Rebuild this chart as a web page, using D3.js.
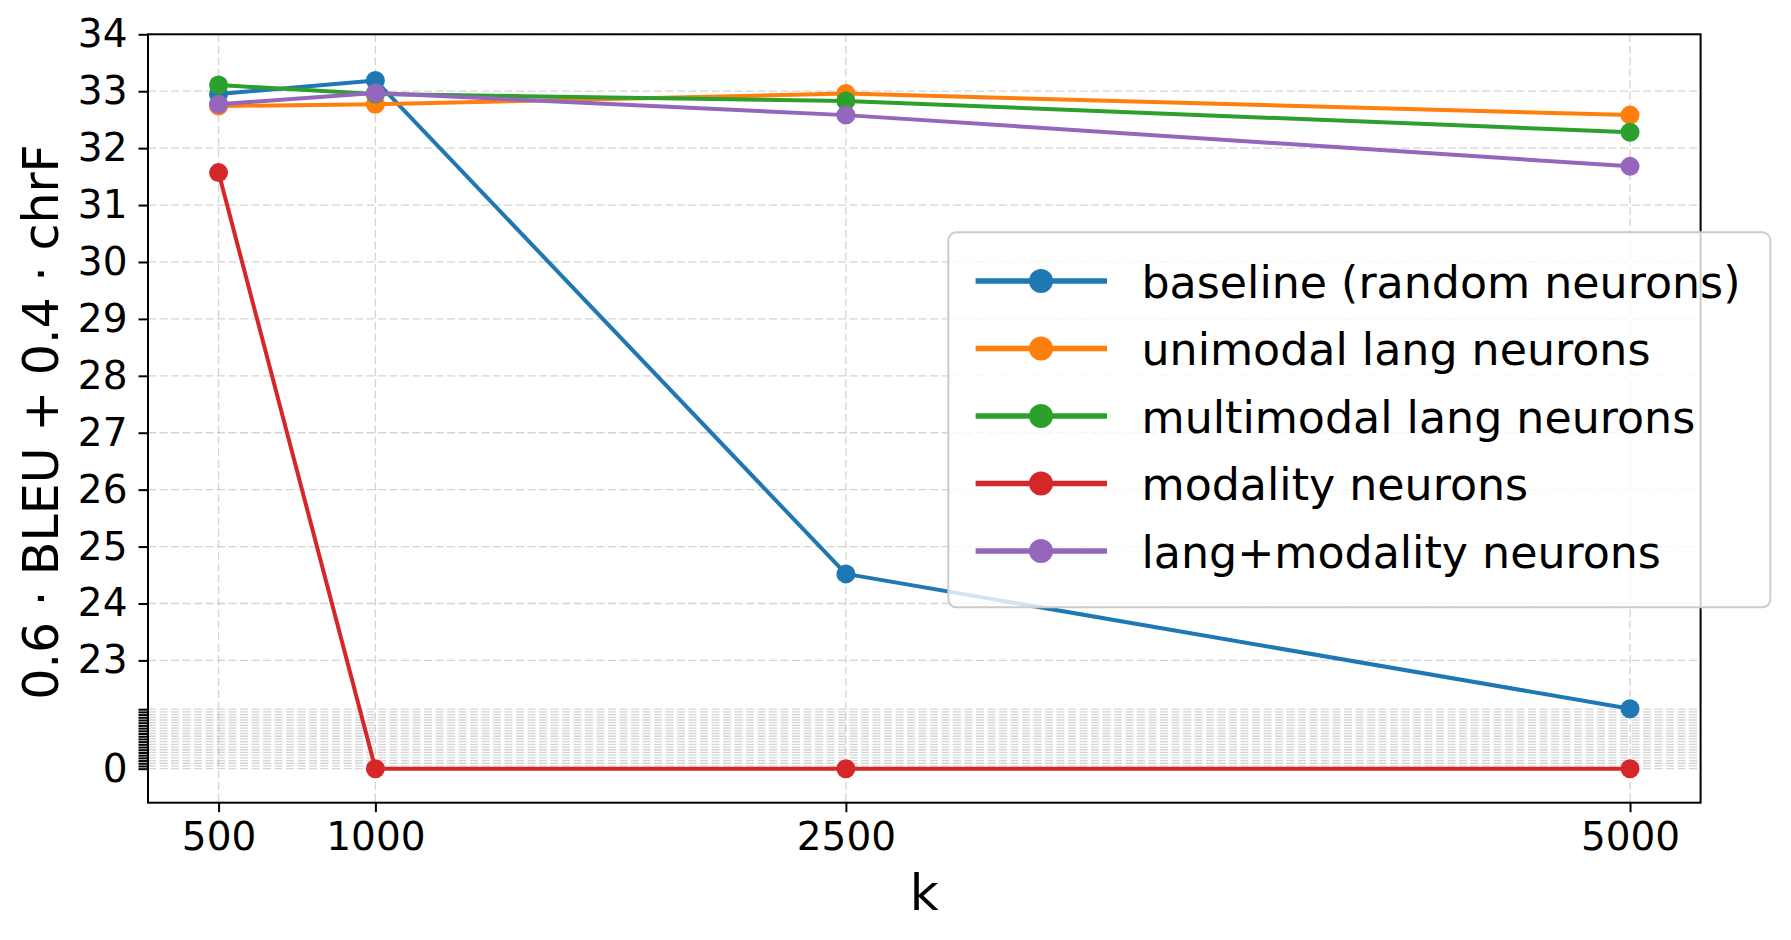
<!DOCTYPE html>
<html>
<head>
<meta charset="utf-8">
<script src="https://cdn.jsdelivr.net/npm/d3@7"></script>
<style>
  body { margin: 0; background: #fff; }
  text { font-family: "DejaVu Sans", sans-serif; }
</style>
</head>
<body>
<div id="chart"></div>
<script>
// data
var ks = [500, 1000, 2500, 5000]
var seriesNames = ['baseline (random neurons)', 'unimodal lang neurons', 'multimodal lang neurons', 'modality neurons', 'lang+modality neurons']
var baselineVals = [32.95, 33.19, 24.52, 22.15]
var unimodalVals = [32.74, 32.77, 32.96, 32.58]
var multimodalVals = [33.11, 32.95, 32.83, 32.28]
var modalityVals = [31.57, 0, 0, 0]
var langModalityVals = [32.77, 32.97, 32.58, 31.68]
var colors = ['#1f77b4', '#ff7f0e', '#2ca02c', '#d62728', '#9467bd']
var yTicks = d3.range(0, 35)
var yLabelled = [0, 23, 24, 25, 26, 27, 28, 29, 30, 31, 32, 33, 34]

var allSeries = [baselineVals, unimodalVals, multimodalVals, modalityVals, langModalityVals]

var width = 1791
var height = 940
var margin = {top: 34.3, right: 90.4, bottom: 137.3, left: 148}

// y axis squashes everything below the break
var breakAt = 22.15
var squash = 0.0475
function tf(v) { return v >= breakAt ? v : breakAt - (breakAt - v) * squash }

var x = d3.scaleLinear().domain([275, 5225]).range([margin.left, width - margin.right])
var yLin = d3.scaleLinear().domain([20.5, 34]).range([height - margin.bottom, margin.top])
function y(v) { return yLin(tf(v)) }

var svg = d3.select('#chart')
  .append('svg')
  .attr('width', width)
  .attr('height', height)

svg.append('rect').attr('width', width).attr('height', height).attr('fill', '#fff')

var grid = svg.append('g')
grid.selectAll('.gy')
  .data(yTicks)
  .enter().append('line')
  .attr('x1', margin.left).attr('x2', width - margin.right)
  .attr('y1', function(d) { return y(d) }).attr('y2', function(d) { return y(d) })
  .attr('stroke', '#b0b0b0').attr('stroke-opacity', 0.55)
  .attr('stroke-width', 1.3).attr('stroke-dasharray', '8,3.5')
grid.selectAll('.gx')
  .data(ks)
  .enter().append('line')
  .attr('x1', function(d) { return x(d) }).attr('x2', function(d) { return x(d) })
  .attr('y1', margin.top).attr('y2', height - margin.bottom)
  .attr('stroke', '#b0b0b0').attr('stroke-opacity', 0.55)
  .attr('stroke-width', 1.3).attr('stroke-dasharray', '8,3.5')

// axes
var xAxis = svg.append('g')
  .attr('transform', 'translate(0,' + (height - margin.bottom) + ')')
  .call(d3.axisBottom(x).tickValues(ks).tickSize(9.5).tickPadding(10).tickFormat(d3.format('d')))
var yAxis = svg.append('g')
  .attr('transform', 'translate(' + margin.left + ',0)')
  .call(d3.axisLeft(yLin).tickValues(yTicks.map(tf)).tickSize(9.5).tickPadding(11)
    .tickFormat(function(d, i) { return yLabelled.indexOf(yTicks[i]) >= 0 ? yTicks[i] : '' }))

svg.selectAll('.domain').remove()
svg.selectAll('.tick line').attr('stroke', '#000').attr('stroke-width', 2)
svg.selectAll('.tick text').attr('font-size', 39).attr('fill', '#000')
  .style('font-family', '"DejaVu Sans", sans-serif')

svg.append('rect')
  .attr('x', margin.left).attr('y', margin.top)
  .attr('width', width - margin.right - margin.left)
  .attr('height', height - margin.bottom - margin.top)
  .attr('fill', 'none').attr('stroke', '#000').attr('stroke-width', 2)

// lines + markers
var line = d3.line().x(function(d, i) { return x(ks[i]) }).y(function(d) { return y(d) })
allSeries.forEach(function(vals, s) {
  var g = svg.append('g')
  g.append('path').datum(vals)
    .attr('d', line)
    .attr('fill', 'none').attr('stroke', colors[s]).attr('stroke-width', 4)
    .attr('stroke-linejoin', 'round')
  g.selectAll('circle').data(vals).enter().append('circle')
    .attr('cx', function(d, i) { return x(ks[i]) })
    .attr('cy', function(d) { return y(d) })
    .attr('r', 9.5)
    .attr('fill', colors[s])
})

// legend
var lg = svg.append('g')
lg.append('rect')
  .attr('x', 948.3).attr('y', 232.3)
  .attr('width', 822).attr('height', 375)
  .attr('rx', 8).attr('ry', 8)
  .attr('fill', '#fff').attr('fill-opacity', 0.8)
  .attr('stroke', '#cccccc').attr('stroke-width', 2)

seriesNames.forEach(function(name, i) {
  var cy = 281 + i * 67.5
  lg.append('line')
    .attr('x1', 975.6).attr('x2', 1107)
    .attr('y1', cy).attr('y2', cy)
    .attr('stroke', colors[i]).attr('stroke-width', 5.5)
  lg.append('circle')
    .attr('cx', 1041).attr('cy', cy).attr('r', 12)
    .attr('fill', colors[i])
  lg.append('text')
    .attr('x', 1141.5).attr('y', cy + 16.5)
    .attr('font-size', 44.3)
    .text(name)
})

// axis titles
svg.append('text')
  .attr('x', (margin.left + width - margin.right) / 2)
  .attr('y', 909.5)
  .attr('text-anchor', 'middle')
  .attr('font-size', 50)
  .text('k')

svg.append('text')
  .attr('transform', 'translate(58,422) rotate(-90)')
  .attr('text-anchor', 'middle')
  .attr('font-size', 49)
  .text('0.6 · BLEU + 0.4 · chrF')
</script>
</body>
</html>
